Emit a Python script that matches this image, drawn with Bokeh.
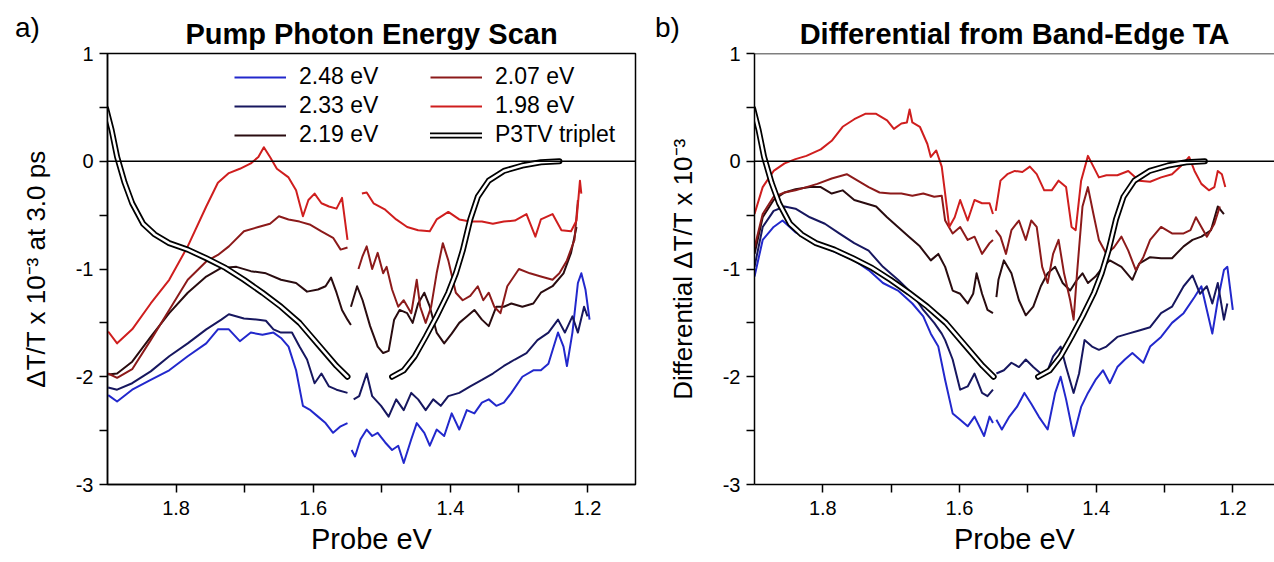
import math
from bokeh.plotting import figure
from bokeh.models import (Range1d, FixedTicker, Span, Legend, LegendItem, Div)
from bokeh.layouts import row
from bokeh.embed import file_html
from bokeh.resources import INLINE

nan = float("nan")

# ---------------- data: panel a) Pump Photon Energy Scan ----------------
a198_x = [1.899, 1.886, 1.864, 1.837, 1.810, 1.783, 1.756, 1.739, 1.723, 1.707, 1.691, 1.680, 1.672, 1.663,
          1.653, 1.636, 1.625, 1.615, 1.607, 1.598, 1.588, 1.577, 1.566, 1.558, 1.550, nan,
          1.529, 1.522, 1.512, 1.495, 1.479, 1.463, 1.447, 1.430, 1.420, 1.403, 1.387, 1.371, 1.354, 1.338,
          1.322, 1.306, 1.289, 1.276, 1.268, 1.251, 1.238, 1.224, 1.216, 1.211, 1.209]
a198_y = [-1.58, -1.69, -1.56, -1.32, -1.10, -0.79, -0.42, -0.20, -0.11, -0.07, -0.02, 0.04, 0.13, 0.04,
          -0.07, -0.15, -0.27, -0.51, -0.36, -0.30, -0.39, -0.42, -0.44, -0.34, -0.73, nan,
          -0.30, -0.29, -0.39, -0.45, -0.54, -0.61, -0.64, -0.65, -0.54, -0.47, -0.54, -0.56, -0.56, -0.58,
          -0.56, -0.55, -0.49, -0.70, -0.54, -0.49, -0.64, -0.65, -0.55, -0.18, -0.30]

a207_x = [1.899, 1.886, 1.864, 1.837, 1.810, 1.783, 1.756, 1.739, 1.723, 1.701, 1.680, 1.663, 1.650, 1.636,
          1.620, 1.604, 1.588, 1.571, 1.560, 1.550, nan,
          1.534, 1.528, 1.522, 1.514, 1.506, 1.498, 1.493, 1.485, 1.476, 1.468, 1.457, 1.449, 1.444, 1.436,
          1.428, 1.420, 1.411, 1.403, 1.392, 1.382, 1.371, 1.360, 1.352, 1.344, 1.336, 1.327, 1.317, 1.300,
          1.284, 1.268, 1.251, 1.241, 1.230, 1.219, 1.214]
a207_y = [-1.97, -2.01, -1.93, -1.66, -1.38, -1.10, -0.93, -0.87, -0.79, -0.65, -0.61, -0.58, -0.51, -0.54,
          -0.56, -0.59, -0.65, -0.71, -0.82, -0.80, nan,
          -1.00, -0.88, -0.79, -1.00, -0.85, -1.04, -0.98, -1.19, -1.35, -1.29, -1.41, -1.10, -1.35, -1.50,
          -1.35, -1.04, -0.76, -0.92, -1.22, -1.29, -1.25, -1.16, -1.29, -1.22, -1.35, -1.41, -1.16, -1.00,
          -1.04, -1.07, -1.10, -1.04, -0.92, -0.73, -0.36]

a219_x = [1.899, 1.886, 1.864, 1.837, 1.810, 1.783, 1.756, 1.734, 1.712, 1.691, 1.669, 1.647, 1.625, 1.609,
          1.593, 1.582, 1.574, 1.566, 1.558, 1.550, 1.545, nan,
          1.545, 1.536, 1.528, 1.517, 1.506, 1.498, 1.490, 1.482, 1.474, 1.463, 1.455, 1.447, 1.438, 1.430,
          1.420, 1.409, 1.398, 1.387, 1.376, 1.365, 1.354, 1.344, 1.333, 1.322, 1.311, 1.295, 1.279, 1.268,
          1.251, 1.235, 1.224, 1.216]
a219_y = [-1.98, -1.97, -1.86, -1.63, -1.41, -1.22, -1.07, -0.99, -0.98, -1.02, -1.04, -1.10, -1.13, -1.21,
          -1.19, -1.16, -1.08, -1.22, -1.38, -1.47, -1.52, nan,
          -1.35, -1.16, -1.29, -1.53, -1.72, -1.78, -1.76, -1.47, -1.38, -1.41, -1.50, -1.32, -1.22, -1.35,
          -1.59, -1.69, -1.60, -1.50, -1.44, -1.38, -1.47, -1.53, -1.35, -1.35, -1.32, -1.35, -1.32, -1.22,
          -1.16, -1.04, -0.85, -0.61]

a233_x = [1.899, 1.886, 1.864, 1.837, 1.810, 1.783, 1.756, 1.734, 1.723, 1.701, 1.680, 1.669, 1.658, 1.647,
          1.631, 1.620, 1.609, 1.598, 1.588, 1.577, 1.566, 1.550, nan,
          1.541, 1.533, 1.522, 1.514, 1.501, 1.490, 1.479, 1.468, 1.457, 1.447, 1.436, 1.425, 1.414, 1.403,
          1.387, 1.371, 1.354, 1.338, 1.322, 1.306, 1.289, 1.273, 1.257, 1.243, 1.233, 1.222, 1.214, 1.205,
          1.200]
a233_y = [-2.10, -2.12, -2.06, -1.95, -1.81, -1.69, -1.56, -1.47, -1.42, -1.46, -1.47, -1.48, -1.56, -1.59,
          -1.59, -1.72, -1.84, -2.06, -1.97, -2.09, -2.12, -2.15, nan,
          -2.21, -2.18, -1.97, -2.18, -2.27, -2.37, -2.21, -2.31, -2.15, -2.21, -2.31, -2.21, -2.27, -2.18,
          -2.15, -2.09, -2.03, -1.97, -1.90, -1.84, -1.78, -1.66, -1.59, -1.47, -1.59, -1.44, -1.59, -1.35,
          -1.44]

a248_x = [1.899, 1.886, 1.864, 1.837, 1.810, 1.783, 1.756, 1.739, 1.723, 1.707, 1.691, 1.674, 1.658, 1.647,
          1.636, 1.625, 1.615, 1.604, 1.593, 1.582, 1.571, 1.560, 1.550, nan,
          1.544, 1.539, 1.531, 1.522, 1.514, 1.506, 1.495, 1.485, 1.476, 1.468, 1.457, 1.449, 1.438, 1.430,
          1.420, 1.409, 1.398, 1.387, 1.376, 1.365, 1.354, 1.344, 1.333, 1.322, 1.311, 1.295, 1.279, 1.268,
          1.257, 1.243, 1.235, 1.230, 1.222, 1.214, 1.209, 1.203, 1.197]
a248_y = [-2.17, -2.23, -2.12, -2.03, -1.94, -1.81, -1.69, -1.56, -1.56, -1.67, -1.59, -1.61, -1.59, -1.64,
          -1.72, -1.94, -2.27, -2.31, -2.37, -2.43, -2.52, -2.46, -2.43, nan,
          -2.68, -2.74, -2.58, -2.49, -2.55, -2.52, -2.61, -2.68, -2.64, -2.80, -2.58, -2.43, -2.52, -2.64,
          -2.49, -2.55, -2.34, -2.49, -2.31, -2.34, -2.24, -2.21, -2.27, -2.24, -2.15, -2.00, -1.94, -1.94,
          -1.88, -1.59, -1.72, -1.90, -1.59, -1.13, -1.04, -1.19, -1.47]

# P3TV triplet reference (same in both panels)
trip_x = [1.902, 1.894, 1.886, 1.875, 1.864, 1.848, 1.831, 1.810, 1.783, 1.756, 1.728, 1.701, 1.674, 1.647,
          1.620, 1.593, 1.566, 1.550, nan,
          1.485, 1.468, 1.452, 1.436, 1.420, 1.403, 1.392, 1.382, 1.371, 1.360, 1.344, 1.322, 1.295, 1.268,
          1.241]
trip_y = [0.49, 0.29, 0.04, -0.20, -0.39, -0.58, -0.68, -0.76, -0.82, -0.90, -0.99, -1.10, -1.22, -1.35,
          -1.50, -1.70, -1.90, -2.00, nan,
          -2.00, -1.94, -1.81, -1.63, -1.44, -1.22, -1.04, -0.83, -0.54, -0.33, -0.18, -0.09, -0.04, -0.01,
          0.00]

# ---------------- data: panel b) Differential from Band-Edge TA ----------------
b198_x = [1.900, 1.888, 1.872, 1.856, 1.840, 1.824, 1.803, 1.787, 1.771, 1.754, 1.738, 1.722, 1.706, 1.696,
          1.685, 1.677, 1.673, 1.669, 1.658, 1.647, 1.642, 1.634, 1.626, 1.621, 1.615, 1.607, 1.599, 1.588,
          1.578, 1.567, 1.556, 1.551, nan,
          1.547, 1.540, 1.530, 1.519, 1.508, 1.497, 1.487, 1.476, 1.465, 1.455, 1.444, 1.436, 1.430, 1.422,
          1.412, 1.404, 1.396, 1.385, 1.369, 1.353, 1.337, 1.321, 1.305, 1.289, 1.272, 1.264, 1.256, 1.246,
          1.235, 1.227, 1.222, 1.216, 1.211]
b198_y = [-0.49, -0.24, -0.09, -0.02, 0.02, 0.05, 0.11, 0.19, 0.32, 0.39, 0.44, 0.44, 0.38, 0.30,
          0.35, 0.36, 0.48, 0.36, 0.32, 0.16, 0.04, 0.10, -0.05, -0.30, -0.61, -0.52, -0.36, -0.55,
          -0.36, -0.39, -0.39, -0.49, nan,
          -0.46, -0.18, -0.12, -0.09, -0.10, -0.05, -0.12, -0.27, -0.27, -0.18, -0.24, -0.61, -0.64, -0.18,
          0.05, -0.05, -0.15, -0.13, -0.13, -0.09, -0.18, -0.19, -0.15, -0.12, -0.02, 0.04, -0.09, -0.21,
          -0.27, -0.24, -0.09, -0.12, -0.24]

b207_x = [1.900, 1.888, 1.872, 1.856, 1.840, 1.824, 1.808, 1.787, 1.765, 1.749, 1.733, 1.717, 1.701, 1.685,
          1.669, 1.653, 1.637, 1.626, 1.621, 1.610, 1.599, 1.588, 1.578, 1.567, 1.556, 1.551, nan,
          1.547, 1.540, 1.532, 1.524, 1.513, 1.503, 1.495, 1.487, 1.479, 1.471, 1.463, 1.455, 1.447, 1.438,
          1.433, 1.428, 1.420, 1.412, 1.404, 1.396, 1.385, 1.374, 1.363, 1.353, 1.342, 1.331, 1.321, 1.305,
          1.289, 1.272, 1.262, 1.254, 1.246, 1.238, 1.227, 1.219]
b207_y = [-0.80, -0.49, -0.33, -0.29, -0.27, -0.24, -0.21, -0.16, -0.12, -0.18, -0.24, -0.29, -0.30, -0.30,
          -0.32, -0.30, -0.33, -0.32, -0.55, -0.67, -0.61, -0.73, -0.70, -0.86, -0.76, -0.73, nan,
          -0.64, -0.70, -0.86, -0.64, -0.55, -0.73, -0.55, -0.61, -0.98, -1.13, -0.86, -0.73, -1.04, -1.29,
          -1.47, -1.04, -0.42, -0.24, -0.49, -0.73, -0.86, -0.80, -0.70, -0.83, -1.01, -0.89, -0.73, -0.61,
          -0.67, -0.67, -0.64, -0.52, -0.61, -0.70, -0.58, -0.42]

b219_x = [1.900, 1.888, 1.872, 1.856, 1.840, 1.819, 1.803, 1.787, 1.771, 1.754, 1.738, 1.722, 1.706, 1.690,
          1.674, 1.658, 1.642, 1.631, 1.621, 1.610, 1.599, 1.588, 1.580, 1.575, 1.567, 1.559, 1.551, nan,
          1.546, 1.543, 1.535, 1.524, 1.513, 1.503, 1.492, 1.481, 1.471, 1.460, 1.449, 1.438, 1.428, 1.420,
          1.412, 1.401, 1.390, 1.380, 1.363, 1.347, 1.337, 1.321, 1.305, 1.289, 1.272, 1.259, 1.246, 1.232,
          1.222, 1.213]
b219_y = [-0.86, -0.52, -0.36, -0.29, -0.26, -0.24, -0.24, -0.30, -0.27, -0.36, -0.39, -0.42, -0.52, -0.61,
          -0.70, -0.79, -0.92, -0.86, -0.98, -1.20, -1.23, -1.32, -1.23, -1.04, -1.23, -1.38, -1.41, nan,
          -1.26, -1.10, -0.92, -1.04, -1.29, -1.43, -1.35, -1.16, -1.04, -0.98, -1.13, -1.20, -1.10, -1.04,
          -1.13, -1.07, -0.98, -0.92, -0.98, -1.10, -0.95, -0.89, -0.90, -0.90, -0.79, -0.73, -0.70, -0.64,
          -0.42, -0.49]

b233_x = [1.900, 1.888, 1.872, 1.856, 1.840, 1.819, 1.797, 1.776, 1.754, 1.733, 1.712, 1.690, 1.669, 1.653,
          1.637, 1.626, 1.621, 1.610, 1.599, 1.588, 1.578, 1.567, 1.559, 1.551, nan,
          1.546, 1.535, 1.524, 1.513, 1.503, 1.492, 1.481, 1.471, 1.463, 1.452, 1.444, 1.433, 1.425, 1.417,
          1.406, 1.396, 1.385, 1.369, 1.353, 1.337, 1.321, 1.305, 1.289, 1.272, 1.259, 1.248, 1.238, 1.230,
          1.222, 1.213, 1.208]
b233_y = [-0.98, -0.61, -0.46, -0.42, -0.44, -0.52, -0.58, -0.67, -0.76, -0.83, -0.98, -1.10, -1.23, -1.38,
          -1.50, -1.60, -1.66, -1.84, -2.12, -2.09, -1.97, -2.15, -2.18, -2.12, nan,
          -1.97, -1.94, -1.87, -1.91, -1.84, -1.91, -1.97, -1.94, -1.81, -1.72, -1.91, -2.15, -1.97, -1.66,
          -1.72, -1.75, -1.72, -1.63, -1.60, -1.57, -1.54, -1.41, -1.35, -1.16, -1.06, -1.23, -1.16, -1.32,
          -1.13, -1.47, -1.32]

b248_x = [1.900, 1.888, 1.872, 1.859, 1.840, 1.819, 1.797, 1.776, 1.754, 1.733, 1.712, 1.690, 1.669, 1.653,
          1.642, 1.631, 1.621, 1.610, 1.599, 1.588, 1.578, 1.564, 1.556, 1.551, nan,
          1.546, 1.538, 1.527, 1.516, 1.505, 1.495, 1.484, 1.471, 1.460, 1.452, 1.444, 1.433, 1.422, 1.412,
          1.401, 1.390, 1.380, 1.369, 1.358, 1.347, 1.331, 1.321, 1.305, 1.289, 1.272, 1.256, 1.246, 1.238,
          1.230, 1.222, 1.213, 1.208, 1.200]
b248_y = [-1.07, -0.73, -0.61, -0.55, -0.66, -0.72, -0.80, -0.86, -0.92, -1.01, -1.13, -1.20, -1.32, -1.44,
          -1.60, -1.72, -2.03, -2.34, -2.40, -2.46, -2.37, -2.55, -2.37, -2.43, nan,
          -2.40, -2.49, -2.37, -2.28, -2.15, -2.25, -2.37, -2.49, -2.15, -2.00, -2.21, -2.55, -2.28, -2.15,
          -2.03, -1.94, -2.06, -1.91, -1.84, -1.78, -1.87, -1.72, -1.63, -1.50, -1.41, -1.26, -1.16, -1.38,
          -1.60, -1.29, -1.01, -0.98, -1.38]

series_labels = ["2.48 eV", "2.33 eV", "2.19 eV", "2.07 eV", "1.98 eV"]
series_colors = ["#2228cc", "#17175f", "#2a0c10", "#8c1a1a", "#cf1e1e"]
x_ticks = [1.8, 1.6, 1.4, 1.2]
x_minor = [1.7, 1.5, 1.3]
y_ticks = [-3, -2, -1, 0, 1]
y_minor = [-2.5, -1.5, -0.5, 0.5]

FONT = "Liberation Sans"


def make_panel(width, left, xend, title, ylabel, data, boxed, legend):
    p = figure(width=width, height=562, x_range=Range1d(1.9, xend), y_range=Range1d(-3, 1),
               output_backend="svg", toolbar_location=None, title=title,
               min_border_left=left, min_border_right=(5 if boxed else 0),
               min_border_top=53, min_border_bottom=78)
    p.grid.visible = False
    p.background_fill_color = "white"
    p.border_fill_color = "white"
    if boxed:
        p.outline_line_color = "black"
        p.outline_line_width = 1.5
    else:
        p.outline_line_color = None
        p.add_layout(Span(location=1, dimension="width", line_color="black", line_width=1.5))

    p.title.text_font = FONT
    p.title.text_font_size = "29px"
    p.title.text_font_style = "bold"
    p.title.text_color = "black"
    p.title.align = "center"
    p.title.standoff = 7

    xa = p.below[0]
    ya = p.left[0]
    for ax in (xa, ya):
        ax.axis_line_width = 1.5
        ax.axis_line_color = "black"
        ax.major_tick_line_width = 1.5
        ax.minor_tick_line_width = 1.5
        ax.major_tick_out = 8
        ax.major_tick_in = 0
        ax.minor_tick_out = 8
        ax.minor_tick_in = 0
        ax.major_label_text_font = FONT
        ax.major_label_text_font_size = "20px"
        ax.major_label_text_color = "black"
        ax.axis_label_text_font = FONT
        ax.axis_label_text_font_style = "normal"
        ax.axis_label_text_color = "black"
    xa.ticker = FixedTicker(ticks=x_ticks, minor_ticks=x_minor)
    ya.ticker = FixedTicker(ticks=y_ticks, minor_ticks=y_minor)
    ya.major_label_overrides = {t: str(t) for t in y_ticks}
    xa.major_label_overrides = {t: f"{t:.1f}" for t in x_ticks}
    xa.axis_label = "Probe eV"
    xa.axis_label_text_font_size = "29px"
    xa.major_label_standoff = 8
    xa.axis_label_standoff = 5
    ya.axis_label = ylabel
    ya.axis_label_text_font_size = "26px"
    ya.major_label_standoff = 6
    ya.axis_label_standoff = 22

    p.add_layout(Span(location=0, dimension="width", line_color="black", line_width=1.5))

    rends = []
    for (xs, ys), col in zip(data, series_colors):
        r = p.line(xs, ys, line_color=col, line_width=2, line_join="round")
        rends.append(r)
    t1 = p.line(trip_x, trip_y, line_color="black", line_width=6, line_join="round", line_cap="round")
    t2 = p.line(trip_x, trip_y, line_color="white", line_width=2.5, line_join="round", line_cap="round")

    if legend:
        common = dict(label_text_font=FONT, label_text_font_size="23px", label_text_color="black",
                      glyph_width=52, glyph_height=22, label_height=22, spacing=2, padding=0, margin=0,
                      border_line_color=None, background_fill_alpha=0, label_standoff=13,
                      label_text_baseline="middle", orientation="vertical")
        items1 = [LegendItem(label=series_labels[i], renderers=[rends[i]]) for i in range(3)]
        items2 = [LegendItem(label=series_labels[3], renderers=[rends[3]]),
                  LegendItem(label=series_labels[4], renderers=[rends[4]]),
                  LegendItem(label="P3TV triplet", renderers=[t1, t2])]
        p.add_layout(Legend(items=items1, location=(127, 336), **common))
        p.add_layout(Legend(items=items2, location=(323, 336), **common))
    return p


pa = make_panel(640, 107, 1.13, "Pump Photon Energy Scan", "\u0394T/T x 10\u207b\u00b3 at 3.0 ps",
                [(a248_x, a248_y), (a233_x, a233_y), (a219_x, a219_y), (a207_x, a207_y), (a198_x, a198_y)],
                True, True)
pb = make_panel(634, 114, 1.139, "Differential from Band-Edge TA", "Differential \u0394T/T x 10\u207b\u00b3",
                [(b248_x, b248_y), (b233_x, b233_y), (b219_x, b219_y), (b207_x, b207_y), (b198_x, b198_y)],
                False, False)

tag_style = {"position": "absolute", "top": "8px", "font-family": FONT, "font-size": "28px",
             "color": "black", "margin": "0", "z-index": "10"}
div_a = Div(text="a)", styles=dict(tag_style, left="15px"))
div_b = Div(text="b)", styles=dict(tag_style, left="655px"))

layout = row(pa, pb, div_a, div_b, spacing=0)
open("out.html", "w").write(file_html(layout, INLINE))
